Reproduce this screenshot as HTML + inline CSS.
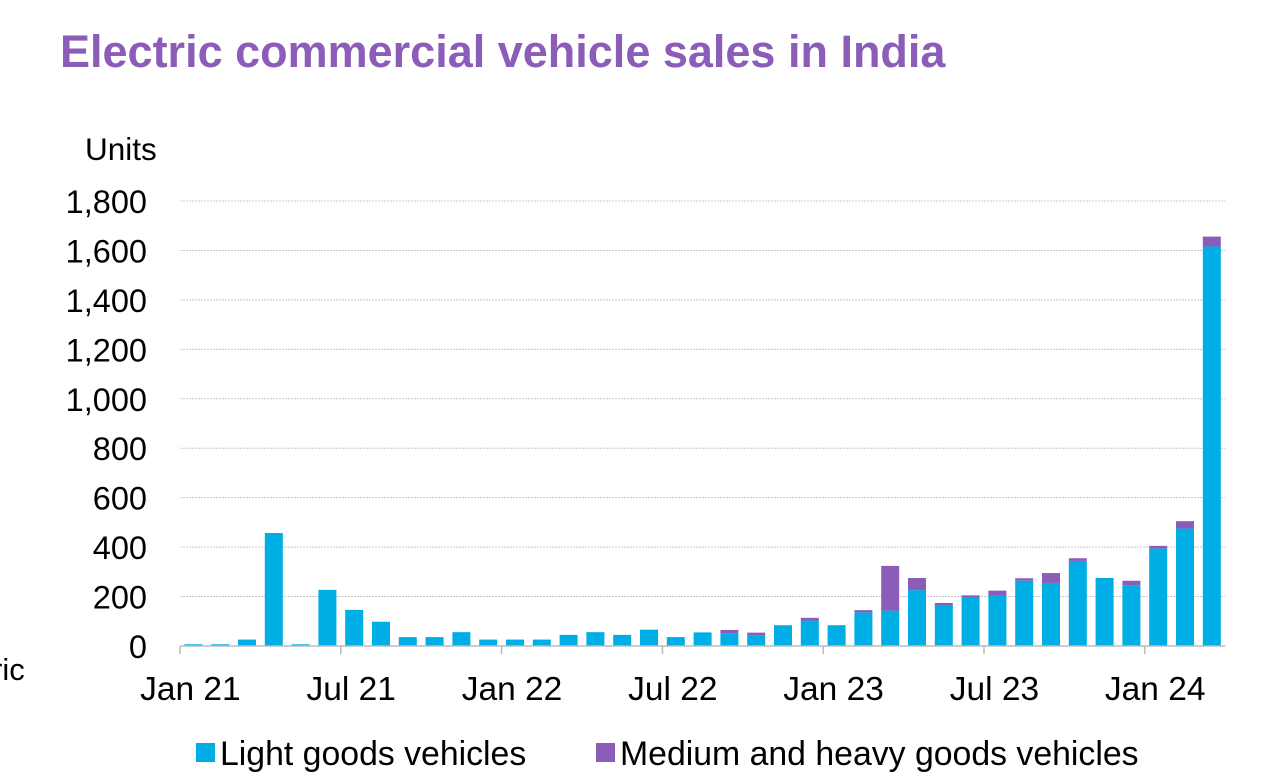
<!DOCTYPE html>
<html><head><meta charset="utf-8"><style>
body{margin:0;background:#fff;width:1284px;height:777px;overflow:hidden;font-family:"Liberation Sans",Arial,sans-serif;}
</style></head><body>
<svg id="chart" width="1284" height="777" xmlns="http://www.w3.org/2000/svg" font-family="Liberation Sans, Arial, sans-serif">
<text x="60" y="67" font-size="45" font-weight="bold" fill="#8B5DB8">Electric commercial vehicle sales in India</text>
<text x="85" y="160" font-size="31.5" fill="#000">Units</text>
<text x="-8" y="680" font-size="31" fill="#000">ric</text>
<g id="grid"></g><g id="bars"></g><g id="axis"></g>
<g>
<rect x="196" y="743" width="19" height="19" fill="#00AEE6"/>
<text x="220" y="765" font-size="33.8" fill="#000">Light goods vehicles</text>
<rect x="596" y="743" width="19" height="19" fill="#8B5DB8"/>
<text x="620" y="765" font-size="33.8" fill="#000">Medium and heavy goods vehicles</text>
</g>
</svg>
<script>
const months = ["Jan 21","Feb 21","Mar 21","Apr 21","May 21","Jun 21","Jul 21","Aug 21","Sep 21","Oct 21","Nov 21","Dec 21","Jan 22","Feb 22","Mar 22","Apr 22","May 22","Jun 22","Jul 22","Aug 22","Sep 22","Oct 22","Nov 22","Dec 22","Jan 23","Feb 23","Mar 23","Apr 23","May 23","Jun 23","Jul 23","Aug 23","Sep 23","Oct 23","Nov 23","Dec 23","Jan 24","Feb 24","Mar 24"];
const lightGoods = [7,7,26,457,7,227,146,98,36,36,56,26,26,26,45,56,45,66,36,55,52,43,84,103,84,136,143,226,164,196,204,264,255,344,275,244,394,475,1616];
const mediumHeavy = [0,0,0,0,0,0,0,0,0,0,0,0,0,0,0,0,0,0,0,0,13,11,0,11,0,9,181,49,10,9,20,10,40,11,0,20,11,30,40];
const yTicks = [0,200,400,600,800,1000,1200,1400,1600,1800];
const xLabels = ["Jan 21","Jul 21","Jan 22","Jul 22","Jan 23","Jul 23","Jan 24"];
const NS="http://www.w3.org/2000/svg";
const x0=180, catW=26.8, base=646, pxPer=445/1800, barW=18;
const y=v=>base-v*pxPer;
const xc=i=>x0+catW*(i+0.5);
function mk(t,a,p){const e=document.createElementNS(NS,t);for(const k in a)e.setAttribute(k,a[k]);p.appendChild(e);return e;}
const grid=document.getElementById('grid'),bars=document.getElementById('bars'),axis=document.getElementById('axis');
const xEnd=x0+catW*months.length;
yTicks.forEach(v=>{
  if(v>0){const l=mk('line',{x1:x0,x2:xEnd,y1:y(v),y2:y(v),stroke:'#c8c8c8','stroke-width':1,'stroke-dasharray':'2,1'},grid);
  
  }
  const t=mk('text',{x:147,y:y(v)+12,'font-size':32.5,'text-anchor':'end',fill:'#000'},axis);
  t.textContent=v.toLocaleString('en-US');
  
  
});
months.forEach((m,i)=>{
  const lg=lightGoods[i],mh=mediumHeavy[i];
  const r=mk('rect',{x:xc(i)-barW/2,y:y(lg),width:barW,height:lg*pxPer,fill:'#00AEE6'},bars);
  
  
  if(mh>0){const r2=mk('rect',{x:xc(i)-barW/2,y:y(lg+mh),width:barW,height:mh*pxPer,fill:'#8B5DB8'},bars);
  
  }
});
const ax=mk('line',{x1:x0,x2:xEnd,y1:base,y2:base,stroke:'#bbb','stroke-width':1.5},axis);


xLabels.forEach(lab=>{
  const i=months.indexOf(lab);
  const tx=x0+catW*i;
  const tk=mk('line',{x1:tx,x2:tx,y1:base,y2:base+8,stroke:'#bbb','stroke-width':1.5},axis);
  
  
  const t=mk('text',{x:xc(i)-3,y:700,'font-size':33.5,'text-anchor':'middle',fill:'#000'},axis);
  t.textContent=lab;
  
  
});
</script>
</body></html>
